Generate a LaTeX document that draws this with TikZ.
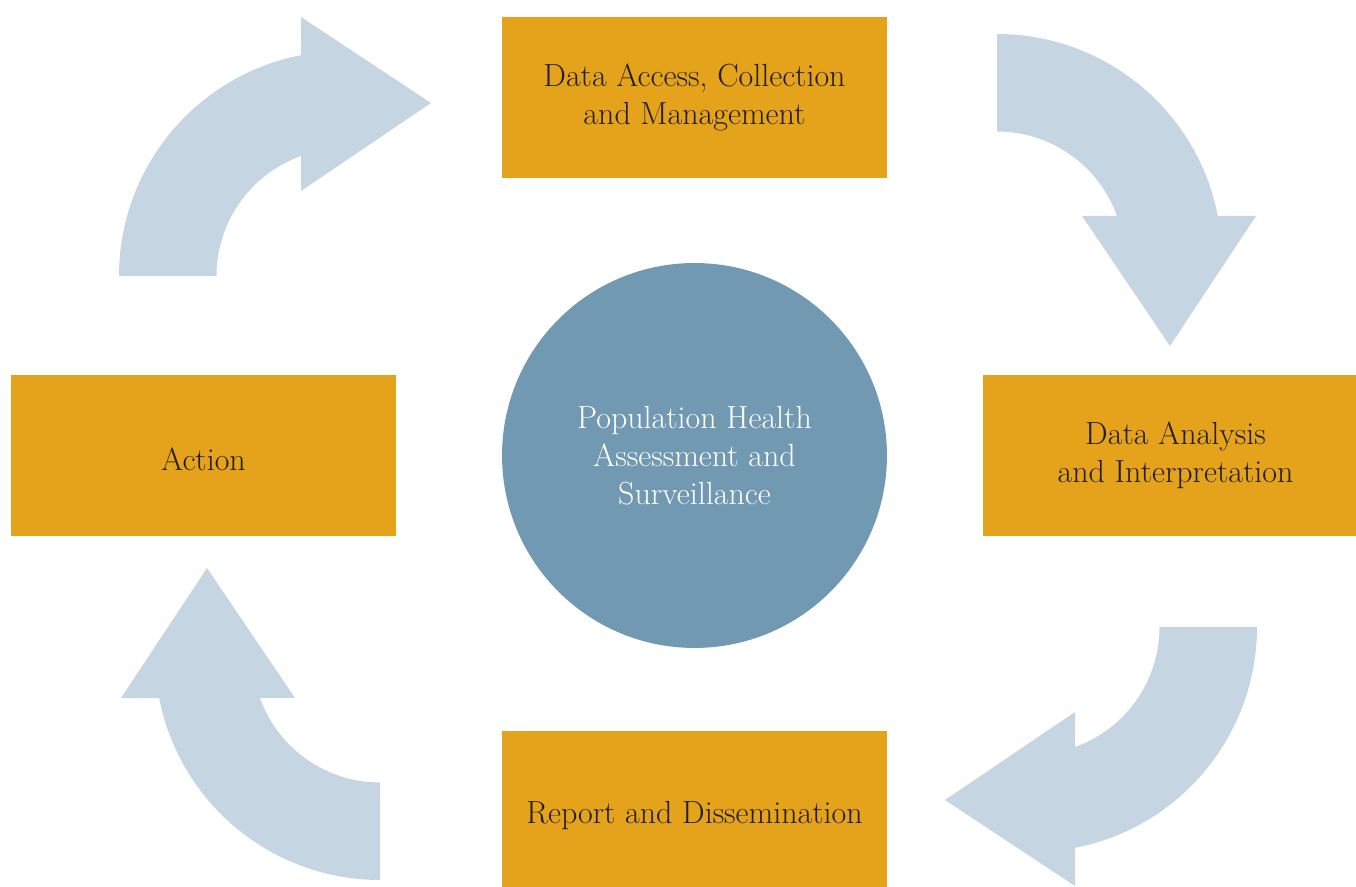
\documentclass[tikz,border=0pt]{standalone}
\usepackage{tikz}

\definecolor{boxorange}{RGB}{228,163,27}
\definecolor{hubblue}{RGB}{113,153,178}
\definecolor{arrowblue}{RGB}{197,214,226}
\definecolor{textdark}{RGB}{35,31,32}

\begin{document}
\begin{tikzpicture}[x=0.02cm,y=0.02cm,
  stage/.style={fill=boxorange,text=textdark,minimum width=7.7cm,
    minimum height=3.22cm,inner sep=0pt,align=center,
    font=\fontsize{18.2}{21.6}\selectfont,
    execute at begin node=\rule{0pt}{17pt}},
  hub/.style={circle,fill=hubblue,text=white,minimum size=7.7cm,
    inner sep=0pt,align=center,font=\fontsize{18.2}{21.6}\selectfont,
    execute at begin node=\rule{0pt}{15pt}},
  cyclearrow/.style={fill=arrowblue}]

\clip (0,0) rectangle (1356,886);

% the four curved arrows
\foreach \cx/\cy/\turn in {344/610/0, 997/627/-90, 1032/259/180, 380/231/90}
{
  \begin{scope}[shift={(\cx,\cy)},rotate=\turn]
    \fill[cyclearrow] (180:225)
      arc[start angle=180,end angle=101.02,radius=225]
      -- (-43,259) -- (87,173) -- (-43,85)
      -- (109.71:127.5)
      arc[start angle=109.71,end angle=180,radius=127.5]
      -- cycle;
  \end{scope}
}

\node[hub] (hub) at (694.5,430.5) {Population Health\\Assessment and\\Surveillance};

\node[stage] (collect) at (694.5,788.5) {Data Access, Collection\\and Management};
\node[stage] (analyse) at (1175.5,430.5) {Data Analysis\\and Interpretation};
\node[stage] (report) at (694.5,74.5) {Report and Dissemination};
\node[stage] (action) at (203.5,430.5) {Action};

\end{tikzpicture}
\end{document}
